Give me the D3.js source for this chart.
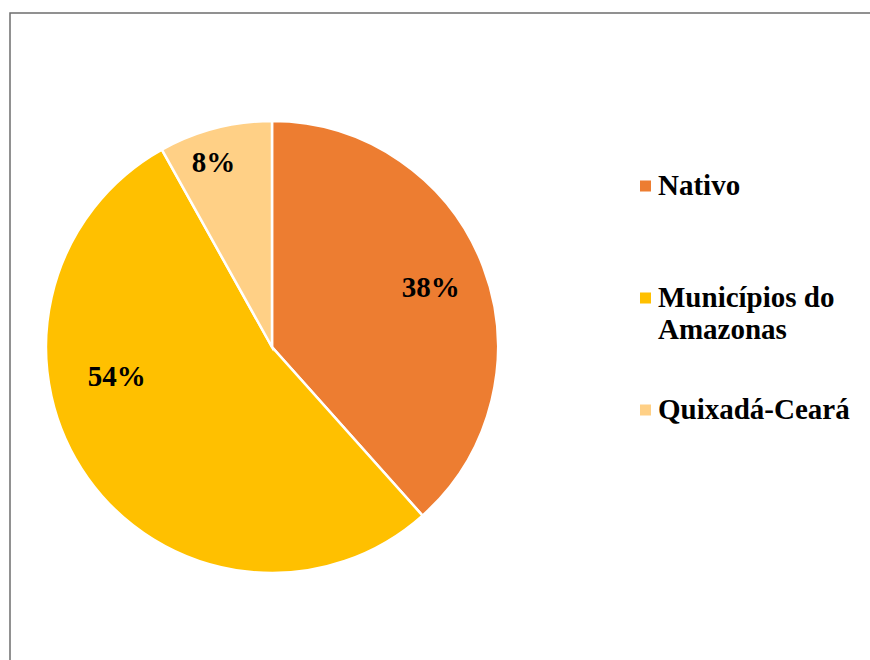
<!DOCTYPE html>
<html>
<head>
  <meta charset="utf-8">
  <style>
    body { margin: 0; background: #fff; }
    svg text { font-family: "Liberation Serif", "Times New Roman", serif; font-weight: bold; fill: #000; }
    .frame { fill: none; stroke: #6e6e6e; stroke-width: 1.5px; }
    .slice { stroke: #fff; stroke-width: 2.5px; }
    .pct { font-size: 29px; text-anchor: middle; }
    .legend text { font-size: 29px; }
  </style>
</head>
<body>
<div id="chart"></div>
<script src="https://d3js.org/d3.v7.min.js"></script>
<script>
  // data
  var categories = ["Nativo", "Municípios do Amazonas", "Quixadá-Ceará"];
  var legendLines = [["Nativo"], ["Municípios do", "Amazonas"], ["Quixadá-Ceará"]];
  var values = [38.4, 53.5, 8.1];
  var labels = ["38%", "54%", "8%"];
  var colors = ["#ED7D31", "#FFC000", "#FFD086"];

  var width = 870, height = 660;
  var cx = 272, cy = 347, radius = 226;

  var svg = d3.select("#chart").append("svg")
    .attr("width", width)
    .attr("height", height);

  // frame (right and bottom edges fall outside the picture)
  svg.append("rect")
    .attr("class", "frame")
    .attr("x", 10).attr("y", 13)
    .attr("width", 900).attr("height", 700);

  var pie = d3.pie().sort(null).value(function (d) { return d; });
  var arc = d3.arc().innerRadius(0).outerRadius(radius);
  var arcs = pie(values);

  var g = svg.append("g").attr("transform", "translate(" + cx + "," + cy + ")");

  g.selectAll("path")
    .data(arcs)
    .enter().append("path")
    .attr("class", "slice")
    .attr("d", arc)
    .attr("fill", function (d, i) { return colors[i]; });

  // label placement (Excel "best fit"): angle shift in degrees and radius
  var labelPlace = [[0, 170], [25, 158], [-3, 194]];

  g.selectAll("text.pct")
    .data(arcs)
    .enter().append("text")
    .attr("class", "pct")
    .attr("transform", function (d, i) {
      var a = (d.startAngle + d.endAngle) / 2 + labelPlace[i][0] * Math.PI / 180;
      var r = labelPlace[i][1];
      return "translate(" + (r * Math.sin(a)) + "," + (-r * Math.cos(a)) + ")";
    })
    .attr("dy", "0.35em")
    .text(function (d, i) { return labels[i]; });

  // legend
  var legendY = [186, 298, 410];
  var legend = svg.append("g").attr("class", "legend");
  var item = legend.selectAll("g")
    .data(categories)
    .enter().append("g")
    .attr("transform", function (d, i) { return "translate(640," + legendY[i] + ")"; });

  item.append("rect")
    .attr("x", 0).attr("y", -5.5)
    .attr("width", 11).attr("height", 11)
    .attr("fill", function (d, i) { return colors[i]; });

  item.append("text")
    .attr("x", 18)
    .attr("y", 9)
    .selectAll("tspan")
    .data(function (d, i) { return legendLines[i]; })
    .enter().append("tspan")
    .attr("x", 18)
    .attr("dy", function (d, j) { return j === 0 ? 0 : 32; })
    .text(function (d) { return d; });
</script>
</body>
</html>
